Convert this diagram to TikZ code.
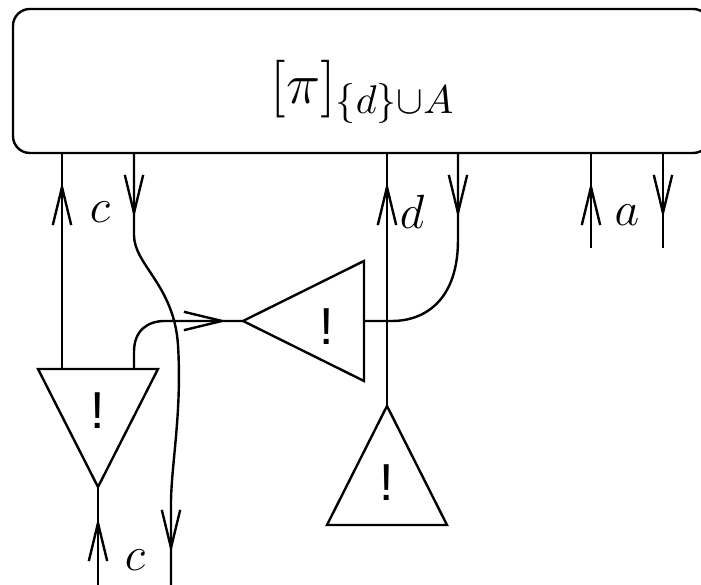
\documentclass[tikz,border=0pt]{standalone}
\usepackage{fontspec}
\newfontfamily\bangfont{Liberation Sans}
\usetikzlibrary{arrows.meta, decorations.markings}

\tikzset{
  wire/.style={line width=0.6pt},
  wiretip/.style={postaction={decorate, decoration={markings,
      mark=at position #1 with {\arrow{Straight Barb[length=9.5pt, width=4.6pt, line width=0.6pt]}}}}},
  tri/.style={line width=0.6pt, line join=miter},
  bang/.style={font=\bangfont\fontsize{13}{15}\selectfont, inner sep=0pt},
  lbl/.style={font=\fontsize{13}{15}\selectfont, inner sep=0pt}
}

\begin{document}
\begin{tikzpicture}[x=0.25pt, y=-0.25pt]
    \path[use as bounding box, clip] (0,0) rectangle (701,585);

    % process box and its ports
    \draw[wire, rounded corners=4.2pt] (13,9) rectangle (710,153);
    \node[lbl, font=\fontsize{14.5}{17}\selectfont] (proclbl) at (363,92) {$[\pi]_{\{d\}\cup A}$};
    \coordinate (c1) at (62,153);
    \coordinate (c2) at (134,153);
    \coordinate (d1) at (387,153);
    \coordinate (d2) at (458,153);
    \coordinate (a1) at (591,153);
    \coordinate (a2) at (663,153);

    % left triangle, pointing down
    \draw[tri] (38,369) -- (158,369) -- (98,487) -- cycle;
    \node[bang] (bang1) at (98,411) {!};
    \coordinate (t1p1) at (62,369);
    \coordinate (t1p2) at (134,369);
    \coordinate (t1apex) at (98,487);

    % middle triangle, pointing left
    \draw[tri] (243,321) -- (364,261) -- (364,381) -- cycle;
    \node[bang] (bang2) at (327,327) {!};
    \coordinate (t2apex) at (243,321);
    \coordinate (t2back) at (364,321);

    % lower triangle, pointing up
    \draw[tri] (387,406) -- (447,525) -- (327,525) -- cycle;
    \node[bang] (bang3) at (387,483) {!};
    \coordinate (t3apex) at (387,406);

    % free ends
    \coordinate (cin) at (98,585);
    \coordinate (cout) at (171,585);
    \coordinate (aend1) at (591,248);
    \coordinate (aend2) at (663,248);

    % wires
    \draw[wire, wiretip=-7.25pt] (t1p1) -- (c1);
    \draw[wire, wiretip=16.25pt, wiretip=-8pt] (c2) -- (134,235)
        .. controls (134,265) and (174,285) .. (178,345)
        .. controls (182,410) and (172,460) .. (171,500) -- (cout);
    \draw[wire, wiretip=-4pt] (t1p2) -- (134,352)
        .. controls (134,330) and (148,321) .. (165,321) -- (t2apex);
    \draw[wire, wiretip=-7.25pt] (t3apex) -- (d1);
    \draw[wire, wiretip=16.25pt] (d2) -- (458,240)
        .. controls (458,300) and (425,321) .. (392,321) -- (t2back);
    \draw[wire, wiretip=-7.25pt] (aend1) -- (a1);
    \draw[wire, wiretip=16.25pt] (a2) -- (aend2);
    \draw[wire, wiretip=-7.75pt] (cin) -- (t1apex);

    % wire labels
    \node[lbl] (lc1) at (100,212) {$c$};
    \node[lbl] (ld) at (412,212) {$d$};
    \node[lbl] (la) at (627,215) {$a$};
    \node[lbl] (lc2) at (135,560) {$c$};

\end{tikzpicture}
\end{document}
